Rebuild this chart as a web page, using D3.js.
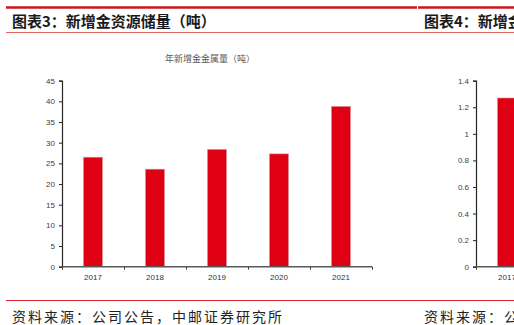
<!DOCTYPE html>
<html>
<head>
<meta charset="utf-8">
<script src="https://cdn.jsdelivr.net/npm/d3@7"></script>
<style>
  body { margin: 0; background: #fff; }
  svg { display: block; font-family: "Noto Sans CJK SC", "Noto Sans", sans-serif; }
</style>
</head>
<body>
<div id="chart"></div>
<script>
const years = ["2017", "2018", "2019", "2020", "2021"];
const goldTonnes = [26.5, 23.6, 28.4, 27.3, 38.8];
const yTicks = [0, 5, 10, 15, 20, 25, 30, 35, 40, 45];

// second panel, cut off at the right edge
const rightYears = ["2017", "2018", "2019", "2020", "2021"];
const rightValues = [1.27];
const rightTicks = [0, 0.2, 0.4, 0.6, 0.8, 1, 1.2, 1.4];

const width = 514, height = 325;
const red = "#e00014";

const svg = d3.select("#chart").append("svg")
  .attr("width", width)
  .attr("height", height);

// header / footer rules
svg.append("line").attr("x1", 6).attr("x2", 417).attr("y1", 7.5).attr("y2", 7.5)
  .attr("stroke", "#c8161d").attr("stroke-width", 2.5);
svg.append("line").attr("x1", 418).attr("x2", width).attr("y1", 7.5).attr("y2", 7.5)
  .attr("stroke", "#c8161d").attr("stroke-width", 2.5);
svg.append("line").attr("x1", 6).attr("x2", width).attr("y1", 32.5).attr("y2", 32.5)
  .attr("stroke", "#e06666").attr("stroke-width", 1.2);
svg.append("line").attr("x1", 6).attr("x2", width).attr("y1", 300.5).attr("y2", 300.5)
  .attr("stroke", "#d9262c").attr("stroke-width", 1);

svg.append("text").attr("x", 12).attr("y", 27)
  .attr("font-size", 15).attr("font-weight", "bold").attr("fill", "#1a1a1a")
  .text("图表3：新增金资源储量（吨）");
svg.append("text").attr("x", 424).attr("y", 27)
  .attr("font-size", 15).attr("font-weight", "bold").attr("fill", "#1a1a1a")
  .text("图表4：新增金资源储量（吨）");

svg.append("text").attr("x", 12).attr("y", 322)
  .attr("font-size", 14).attr("letter-spacing", 2).attr("fill", "#222")
  .text("资料来源：公司公告，中邮证券研究所");
svg.append("text").attr("x", 424).attr("y", 322)
  .attr("font-size", 14).attr("letter-spacing", 2).attr("fill", "#222")
  .text("资料来源：公司公告，中邮证券研究所");

svg.append("text").attr("x", 210).attr("y", 62)
  .attr("text-anchor", "middle").attr("font-size", 9).attr("fill", "#595959")
  .text("年新增金金属量（吨）");

function drawPanel(left, cats, vals, ticks, yMax, fmt) {
  const plotTop = 80.7, plotBottom = 266.7;
  const x = d3.scaleBand().domain(cats)
    .range([left, left + 310])
    .paddingInner(0.69).paddingOuter(0.345);
  const y = d3.scaleLinear().domain([0, yMax]).range([plotBottom, plotTop]);

  svg.selectAll(null).data(vals).enter().append("rect")
    .attr("x", (d, i) => x(cats[i]))
    .attr("y", d => y(d))
    .attr("width", x.bandwidth())
    .attr("height", d => y(0) - y(d))
    .attr("fill", red)
    .attr("stroke", "#d9a3aa").attr("stroke-width", 0.6);

  const yAxis = svg.append("g")
    .attr("transform", `translate(${left},0)`)
    .call(d3.axisLeft(y).tickValues(ticks).tickSize(3).tickPadding(4).tickFormat(fmt));
  yAxis.select(".domain").attr("stroke", "#262626").attr("stroke-width", 1.2);
  yAxis.selectAll(".tick line").attr("stroke", "#262626");
  yAxis.selectAll("text").attr("font-size", 8).attr("fill", "#404040")
    .attr("font-family", "'Liberation Sans', Arial, sans-serif");

  // category boundary ticks
  const edge = d3.scaleLinear().domain([0, cats.length]).range([left, left + 310]);
  const xTicks = svg.append("g")
    .attr("transform", `translate(0,${plotBottom})`)
    .call(d3.axisBottom(edge).ticks(cats.length).tickSize(3).tickFormat(""));
  xTicks.select(".domain").attr("stroke", "#595959").attr("stroke-width", 1.4)
    .attr("d", `M${left},0H${left + 310}`);
  xTicks.selectAll(".tick line").attr("stroke", "#404040");

  const xLabels = svg.append("g")
    .attr("transform", `translate(0,${plotBottom})`)
    .call(d3.axisBottom(x).tickSize(0).tickPadding(8));
  xLabels.select(".domain").remove();
  xLabels.selectAll("text").attr("font-size", 8).attr("fill", "#333")
    .attr("font-family", "'Liberation Sans', Arial, sans-serif");
}

drawPanel(62, years, goldTonnes, yTicks, 45, d3.format("d"));
drawPanel(476, rightYears, rightValues, rightTicks, 1.4, d => String(+d.toFixed(1)));
</script>
</body>
</html>
